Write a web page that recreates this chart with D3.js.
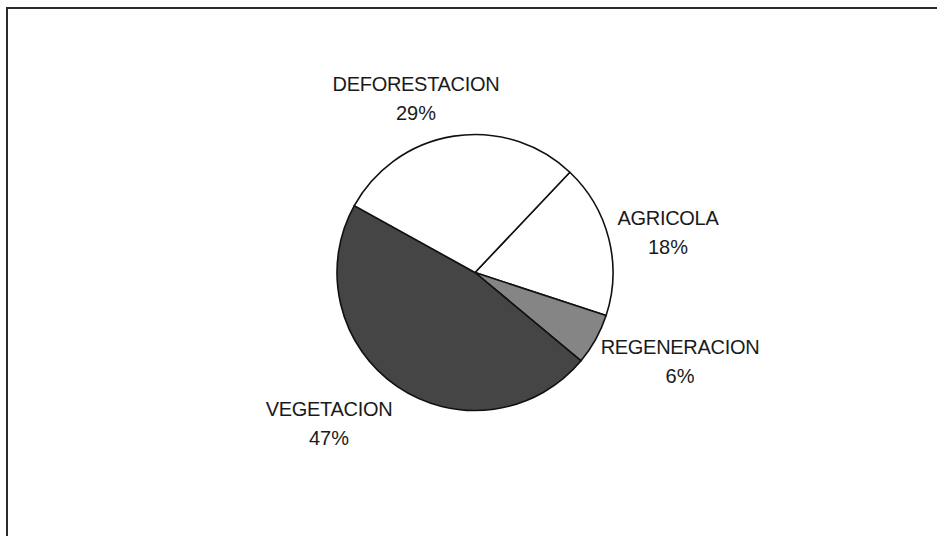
<!DOCTYPE html>
<html>
<head>
<meta charset="utf-8">
<script src="https://cdn.jsdelivr.net/npm/d3@7/dist/d3.min.js"></script>
<style>
  html, body { margin: 0; padding: 0; background: #fff; }
  svg { display: block; }
</style>
</head>
<body>
<svg id="chart" width="937" height="536"></svg>
<script>
// Land-use shares (percent), listed clockwise from the first slice
const categories = ["AGRICOLA", "REGENERACION", "VEGETACION", "DEFORESTACION"];
const values = [18, 6, 47, 29];
const fills = ["#ffffff", "#858585", "#454545", "#ffffff"];

const W = 937, H = 536;
const cx = 475, cy = 272.5, radius = 138;
const startDeg = 43.4;

// Label anchors (centre x, first baseline y) for each category
const labelPos = {
  "DEFORESTACION": [416, 91],
  "AGRICOLA": [668, 225],
  "REGENERACION": [680, 354],
  "VEGETACION": [329, 416]
};
const lineGap = 28.5;

const svg = d3.select("#chart");

// Chart frame (top and left edges)
svg.append("path")
  .attr("d", `M7,${H} L7,8 L${W},8`)
  .attr("fill", "none")
  .attr("stroke", "#2b2b2b")
  .attr("stroke-width", 2);

const a0 = startDeg * Math.PI / 180;
const pie = d3.pie().sort(null).value(d => d.value)
  .startAngle(a0).endAngle(a0 + 2 * Math.PI);
const arc = d3.arc().innerRadius(0).outerRadius(radius);

const data = categories.map((c, i) => ({ name: c, value: values[i], fill: fills[i] }));

const g = svg.append("g").attr("transform", `translate(${cx},${cy})`);
g.selectAll("path.slice")
  .data(pie(data))
  .join("path")
  .attr("class", "slice")
  .attr("d", arc)
  .attr("fill", d => d.data.fill)
  .attr("stroke", "#111")
  .attr("stroke-width", 1.6)
  .attr("stroke-linejoin", "round");

const labels = svg.append("g")
  .attr("font-family", "Arial, 'Liberation Sans', sans-serif")
  .attr("font-size", 20)
  .attr("fill", "#1a1a1a")
  .attr("text-anchor", "middle");

data.forEach(d => {
  const [lx, ly] = labelPos[d.name];
  labels.append("text")
    .attr("x", lx).attr("y", ly)
    .attr("letter-spacing", "-0.3px")
    .text(d.name);
  labels.append("text")
    .attr("x", lx).attr("y", ly + lineGap)
    .text(d.value + "%");
});
</script>
</body>
</html>
